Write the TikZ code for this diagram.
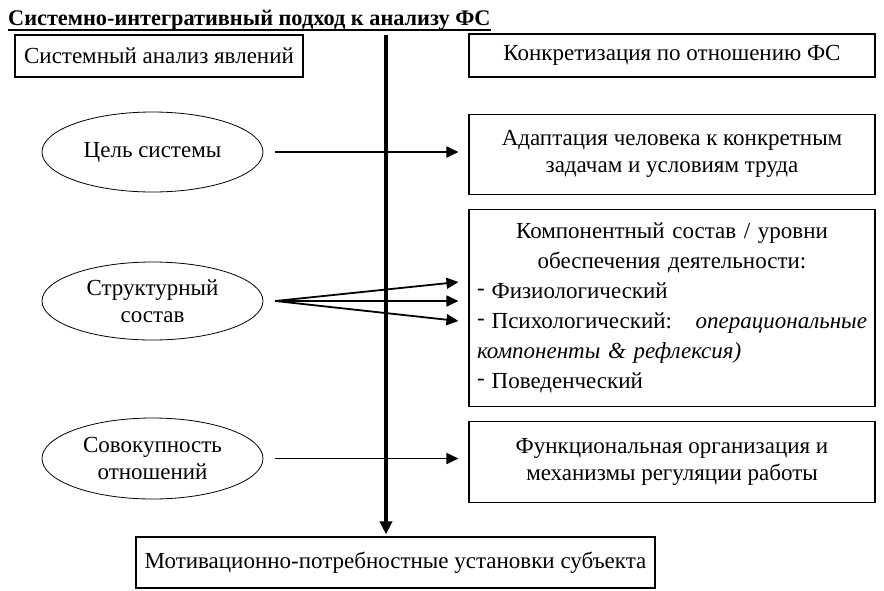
\documentclass[tikz,border=0pt]{standalone}
\usepackage{fontspec}
\setmainfont{Liberation Serif}
\usetikzlibrary{arrows.meta,positioning,shapes.geometric}
\tikzset{
  box/.style={rectangle, draw, line width=1.1pt, minimum width=406pt, align=center, inner sep=0pt},
  oval/.style={ellipse, draw, line width=0.8pt, minimum width=221pt, minimum height=80pt, align=center, inner sep=2pt},
  arr/.style={-{Triangle[length=12pt,width=11pt]}, line width=1.8pt},
  axis/.style={-{Triangle[length=13pt,width=12pt]}, line width=3.6pt}
}
\newcommand{\levdash}{\raisebox{.3ex}{-}\hspace{7pt}}

\begin{document}
\begin{tikzpicture}[x=1pt,y=-1pt,font=\fontsize{23}{27}\selectfont]
    \useasboundingbox (0,0) rectangle (884,590);
    % title
    \node [anchor=base west, inner sep=0pt, font=\fontsize{22.3}{27}\selectfont] (title) at (8,25) {\textbf{Системно-интегративный подход к анализу ФС}};
    \draw [line width=2pt] ([yshift=-5pt]title.base west) -- ([yshift=-5pt]title.base east);

    % right column
    \node [box, minimum height=43pt] (konkr) at (672,55.5) {Конкретизация по отношению ФС};
    \node [box, minimum height=80pt, below=36pt of konkr] (adapt) {Адаптация человека к конкретным\\задачам и условиям труда};
    \node [box, minimum height=197pt, below=14pt of adapt, text width=390pt, align=left, font=\fontsize{23}{30}\selectfont] (comp)
      {\makebox[390pt]{Компонентный состав / уровни}\\
       \makebox[390pt]{обеспечения деятельности:}\\
       \levdash Физиологический\\
       \makebox[390pt][s]{\levdash Психологический:\hfill\textit{операциональные}}\\
       \textit{компоненты \& рефлексия)}\\
       \levdash Поведенческий};
    \node [box, minimum height=81pt, below=14pt of comp] (func) {Функциональная организация и\\механизмы регуляции работы};

    % left column
    \node [box, minimum width=288pt, minimum height=42pt] (sysan) at (159,56) {Системный анализ явлений};
    \node [oval] (goal) at (152.5,152) {Цель системы};
    \node [oval, minimum height=78pt] (struct) at (152.5,301) {Структурный\\состав};
    \node [oval, minimum height=81pt] (rel) at (152.5,458.5) {Совокупность\\отношений};

    \node [box, minimum width=519pt, minimum height=51pt] (motiv) at (395.5,562.5) {Мотивационно-потребностные установки субъекта};

    % axis
    \coordinate (top) at (386,35);
    \draw [axis, shorten >=2pt] (top) -- (top |- motiv.north);

    \draw [arr] ([xshift=12pt]goal.east) -- ([xshift=-10pt]goal -| adapt.west);
    \foreach \dy in {19,0,-20}
      \draw [arr] ([xshift=12pt]struct.east) -- ([xshift=-10pt,yshift=\dy pt]struct -| comp.west);
    \draw [arr] ([xshift=12pt]rel.east) -- ([xshift=-10pt]rel -| func.west);
\end{tikzpicture}
\end{document}
